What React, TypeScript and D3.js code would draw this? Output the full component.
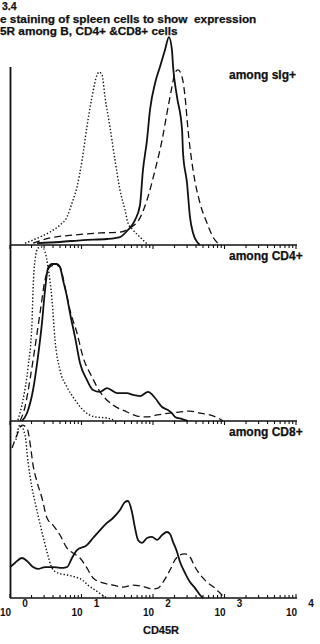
import React from "react";
import * as d3 from "d3";

// ---- Data (CD45R fluorescence value, relative cell count) ----
// Panel 1: among sIg+
const sigDottedX = [1.62, 2.63, 3.62, 5.0, 6.27, 7.36, 8.65, 10.2, 11.9, 14.0, 16.5, 17.6, 19.4, 21.3, 25.0, 29.4, 34.5, 40.6, 44.7, 52.5, 65.8, 82.4];
const sigDottedY = [1.0, 4.5, 7.3, 11.3, 15.8, 23.7, 32.8, 48.0, 66.7, 83.6, 96.0, 97.7, 96.0, 83.6, 66.7, 48.0, 31.1, 19.8, 12.4, 8.5, 4.5, 0.6];
const sigSolidX = [2.39, 5.0, 10.5, 22.7, 34.5, 44.7, 56.0, 65.8, 72.4, 82.4, 90.8, 107, 125, 147, 167, 184, 191, 217, 255, 263, 299, 329, 363, 426, 454];
const sigSolidY = [1.1, 1.7, 2.8, 3.4, 4.5, 8.5, 14.1, 22.6, 42.4, 59.3, 76.3, 91.5, 100.6, 110.2, 117.5, 110.2, 100.6, 83.6, 65.0, 52.0, 35.0, 15.8, 6.8, 1.1, 0];
const sigDashedX = [2.1, 3.62, 7.6, 18.2, 34.5, 47.7, 65.8, 82.4, 107, 134, 157, 184, 203, 224, 255, 281, 309, 363, 454, 569, 690, 865];
const sigDashedY = [1.1, 4.0, 5.6, 6.8, 7.3, 9.6, 15.3, 25.4, 42.4, 59.3, 74.6, 89.3, 97.2, 98.9, 94.9, 83.6, 65.0, 42.4, 23.7, 12.4, 4.5, 0];

// Panel 2: among CD4+
const cd4DottedX = [1.29, 1.52, 1.79, 2.03, 2.1, 2.24, 2.46, 2.8, 3.09, 3.4, 3.87, 4.26, 5.0, 6.27, 8.11, 10.5, 15.5, 22.7, 27.6];
const cd4DottedY = [0.6, 11.9, 30.5, 55.4, 74.0, 91.0, 97.7, 98.3, 95.5, 87.0, 68.4, 45.8, 28.8, 19.2, 11.9, 6.2, 2.3, 1.7, 0.6];
const cd4SolidX = [1.47, 1.73, 2.1, 2.46, 2.8, 3.09, 3.4, 3.87, 4.54, 5.0, 5.51, 6.27, 6.9, 8.11, 9.53, 11.9, 14.5, 18.2, 22.7, 31.4, 43.3, 52.5, 65.8, 85.1, 107, 134, 162, 184, 203, 255, 309];
const cd4SolidY = [0, 4.5, 17.5, 36.2, 55.4, 74.0, 86.4, 88.7, 88.7, 87.0, 79.7, 70.1, 61.0, 47.5, 32.8, 23.2, 17.5, 16.4, 18.6, 15.8, 15.8, 14.7, 14.1, 16.4, 13.0, 7.9, 6.2, 4.5, 2.3, 1.1, 0];
const cd4DashedX = [1.38, 1.62, 1.9, 2.24, 2.63, 3.09, 3.62, 4.26, 5.0, 5.88, 6.9, 8.65, 10.5, 14.0, 18.2, 27.6, 43.3, 59.7, 82.4, 114, 173, 239, 329, 454, 627, 811, 953];
const cd4DashedY = [0, 7.9, 23.2, 41.8, 61.0, 79.7, 87.0, 88.1, 87.0, 75.7, 62.7, 49.7, 36.2, 24.9, 16.4, 9.0, 5.1, 2.8, 2.3, 3.4, 4.5, 5.1, 5.6, 4.5, 3.4, 1.7, 0];

// Panel 3: among CD8+
const cd8DottedX = [1.21, 1.38, 1.62, 1.79, 2.03, 2.24, 2.46, 2.8, 3.29, 3.87, 4.69, 6.27, 8.11, 10.2, 12.3, 15.5, 19.4, 22.7];
const cd8DottedY = [89.3, 97.7, 92.1, 76.8, 62.2, 54.2, 46.9, 37.3, 26.0, 16.9, 14.1, 13.0, 11.9, 10.2, 7.3, 4.5, 1.7, 0];
const cd8SolidX = [1.0, 1.17, 1.47, 1.73, 2.1, 2.46, 3.09, 3.99, 5.0, 6.27, 7.36, 8.65, 11.9, 14.5, 18.2, 22.7, 27.6, 34.5, 40.6, 44.7, 50.8, 56.0, 61.7, 70.2, 82.4, 96.8, 114, 134, 157, 173, 191, 217, 239, 281, 329, 387, 454, 500];
const cd8SolidY = [17.5, 19.8, 22.6, 20.9, 17.5, 16.4, 17.5, 17.5, 17.0, 17.5, 22.6, 27.1, 29.9, 33.9, 38.4, 42.4, 45.2, 49.7, 54.2, 54.8, 48.6, 39.6, 32.8, 31.1, 33.9, 34.5, 32.8, 35.6, 37.3, 36.2, 31.6, 26.0, 20.3, 14.1, 9.0, 5.6, 1.7, 0];
const cd8DashedX = [1.07, 1.25, 1.47, 1.73, 1.9, 2.1, 2.39, 2.8, 3.29, 3.99, 5.0, 6.27, 7.6, 9.53, 11.9, 14.5, 20.0, 27.6, 38.0, 52.5, 77.3, 96.8, 117, 138, 173, 203, 239, 281, 329, 387, 484, 588, 736, 865, 1016];
const cd8DashedY = [84.7, 92.1, 97.7, 96.0, 88.1, 75.1, 65.5, 56.5, 45.2, 41.2, 35.6, 28.2, 25.4, 22.6, 17.0, 11.3, 8.5, 7.3, 6.2, 7.3, 6.2, 5.1, 5.6, 9.0, 15.8, 21.5, 24.3, 24.9, 23.2, 17.5, 11.9, 8.5, 5.6, 2.8, 0];

const panelLabels = ["among sIg+", "among CD4+", "among CD8+"];
const decadeExponents = ["0", "1", "2", "3", "4"];
const titleLines = ["3.4", "e staining of spleen cells to show  expression", "5R among B, CD4+ &CD8+ cells"];
const xAxisTitle = "CD45R";

const zip = (xs: number[], ys: number[]) => xs.map((x, i) => [x, ys[i]] as [number, number]);

const panels = [
  { label: panelLabels[0], solid: zip(sigSolidX, sigSolidY), dashed: zip(sigDashedX, sigDashedY), dotted: zip(sigDottedX, sigDottedY) },
  { label: panelLabels[1], solid: zip(cd4SolidX, cd4SolidY), dashed: zip(cd4DashedX, cd4DashedY), dotted: zip(cd4DottedX, cd4DottedY) },
  { label: panelLabels[2], solid: zip(cd8SolidX, cd8SolidY), dashed: zip(cd8DashedX, cd8DashedY), dotted: zip(cd8DottedX, cd8DottedY) },
];

export default function App() {
  const W = 320, H = 644;
  const xs = d3.scaleLog().domain([1, 10000]).range([10, 296]);
  const baselines = [245, 421, 598];
  const labelOffsets = [166, 161, 162];
  const panelH = 177;
  const ink = "#111";
  const font = "'Liberation Sans', Arial, Helvetica, sans-serif";

  const ticks: { v: number; major: boolean }[] = [];
  for (let d = 0; d < 4; d++) {
    const base = Math.pow(10, d);
    ticks.push({ v: base, major: true });
    for (let k = 2; k <= 9; k++) ticks.push({ v: k * base, major: false });
  }
  ticks.push({ v: 10000, major: true });

  return (
    <svg width={W} height={H} style={{ position: "absolute", left: 0, top: 0, background: "#fff" }} fontFamily={font}>
      <rect width={W} height={H} fill="#fff" />
      {/* Title */}
      <g fontWeight="bold" fill={ink} stroke={ink} strokeWidth={0.25}>
        <text x={2} y={9.5} fontSize={10.5}>{titleLines[0]}</text>
        <text x={0} y={22.5} fontSize={11.8} xmlSpace="preserve">{titleLines[1]}</text>
        <text x={0} y={35} fontSize={11.8}>{titleLines[2]}</text>
      </g>

      {/* Y axis */}
      <line x1={10.5} x2={10.5} y1={67} y2={baselines[2]} stroke={ink} strokeWidth={1.8} />

      {panels.map((p, i) => {
        const b = baselines[i];
        const ys = d3.scaleLinear().domain([0, 100]).range([b, b - panelH]);
        const line = d3.line<[number, number]>().x((d) => xs(d[0])).y((d) => ys(d[1])).curve(d3.curveMonotoneX);
        const dir = i === 2 ? -1 : 1;
        return (
          <g key={i}>
            <line x1={10} x2={297} y1={b} y2={b} stroke={ink} strokeWidth={1.7} />
            {ticks.map((t, j) => (
              <line key={j} x1={xs(t.v)} x2={xs(t.v)} y1={b} y2={b + dir * (t.major ? 4 : 3)} stroke={ink} strokeWidth={1.1} />
            ))}
            <path d={line(p.dotted) || ""} fill="none" stroke={ink} strokeWidth={1.4} strokeDasharray="1.4,2" />
            <path d={line(p.dashed) || ""} fill="none" stroke={ink} strokeWidth={1.3} strokeDasharray="7,4" />
            <path d={line(p.solid) || ""} fill="none" stroke={ink} strokeWidth={1.8} />
            <text x={229} y={b - labelOffsets[i]} fontSize={12} fontWeight="bold" fill={ink} stroke={ink} strokeWidth={0.25}>{p.label}</text>
          </g>
        );
      })}

      {/* X tick labels */}
      <g fontWeight="bold" fontSize={10} fill={ink}>
        {decadeExponents.map((e, i) => {
          const tx = xs(Math.pow(10, i));
          return (
            <g key={i}>
              <text x={tx + 1} y={616} textAnchor="end">10</text>
              <text x={tx + 15} y={607} textAnchor="middle">{e}</text>
            </g>
          );
        })}
      </g>
      <text x={161} y={634} textAnchor="middle" fontWeight="bold" fontSize={11} fill={ink} stroke={ink} strokeWidth={0.2}>{xAxisTitle}</text>
    </svg>
  );
}
